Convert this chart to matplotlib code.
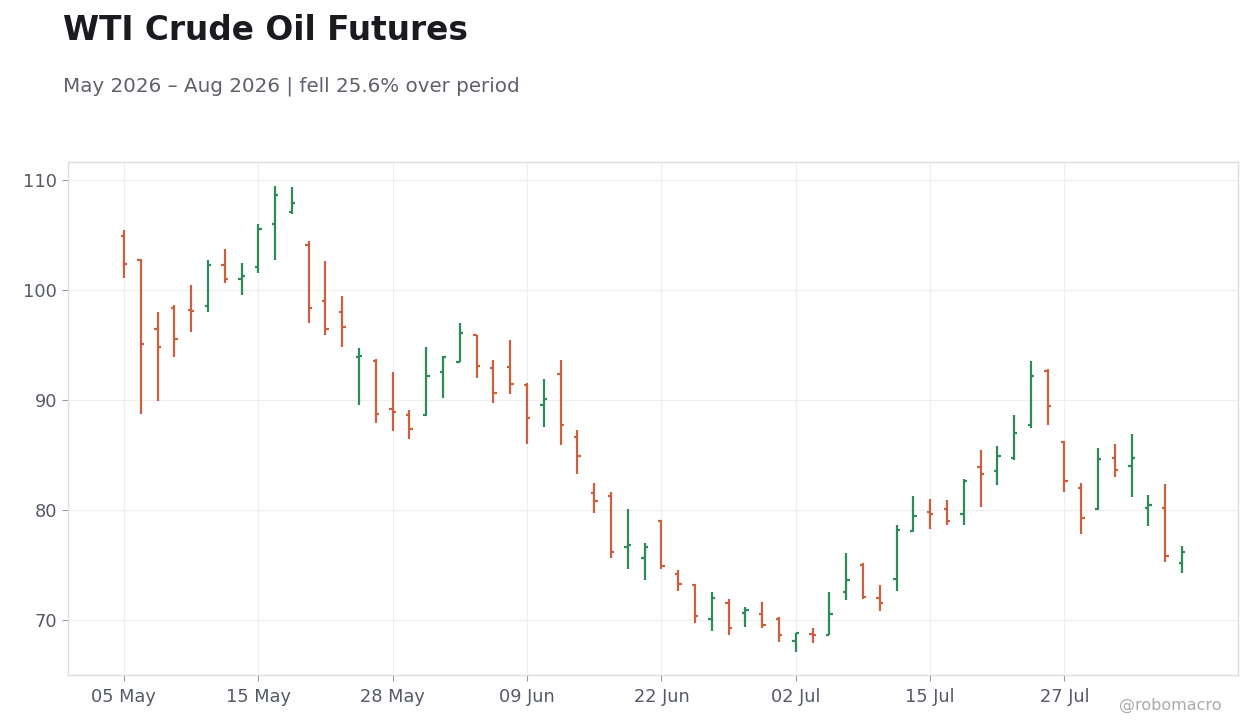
import matplotlib
matplotlib.use("Agg")
import matplotlib.pyplot as plt
import numpy as np

# OHLC data (trading-day index)
opens = [104.9, 102.7, 96.4, 98.3, 98.2, 98.5, 102.2, 101.0, 102.1, 106.0,
         107.1, 104.1, 99.0, 98.0, 93.9, 93.5, 89.2, 88.6, 88.6, 92.5,
         93.45, 95.85, 92.85, 93.0, 91.3, 89.5, 92.3, 86.65, 81.5, 81.25,
         76.65, 75.6, 79.0, 74.2, 73.2, 70.05, 71.5, 70.6, 70.5, 70.05,
         68.1, 68.75, 68.65, 72.5, 75.0, 71.95, 73.75, 78.1, 79.85, 80.1,
         79.65, 83.85, 83.55, 84.75, 87.75, 92.6, 86.2, 82.0, 80.1, 84.75,
         84.0, 80.2, 80.2, 75.2]
highs = [105.45, 102.8, 98.0, 98.6, 100.4, 102.7, 103.7, 102.4, 106.0, 109.45,
         109.3, 104.45, 102.6, 99.45, 94.7, 93.7, 92.55, 89.1, 94.8, 94.0,
         97.0, 95.9, 93.6, 95.45, 91.55, 91.9, 93.6, 87.3, 82.45, 81.65,
         80.1, 77.0, 79.1, 74.55, 73.25, 72.55, 71.9, 71.2, 71.65, 70.25,
         68.8, 69.25, 72.55, 76.1, 75.2, 73.2, 78.6, 81.3, 81.0, 80.9,
         82.8, 85.45, 85.8, 88.65, 93.55, 92.8, 86.25, 82.45, 85.65, 86.0,
         86.9, 81.35, 82.35, 76.7]
lows = [101.1, 88.75, 89.9, 93.85, 96.2, 98.0, 100.6, 99.5, 101.5, 102.7,
        106.85, 97.0, 95.85, 94.75, 89.5, 87.85, 87.2, 86.4, 88.55, 90.2,
        93.45, 91.95, 89.75, 90.5, 86.0, 87.5, 85.85, 83.3, 79.75, 75.6,
        74.65, 73.65, 74.6, 72.6, 69.75, 69.0, 68.65, 69.4, 69.3, 68.0,
        67.1, 67.95, 68.6, 71.85, 71.9, 70.85, 72.65, 77.95, 78.3, 78.65,
        78.65, 80.3, 82.3, 84.5, 87.4, 87.75, 81.65, 77.85, 80.0, 83.0,
        81.15, 78.5, 75.25, 74.3]
closes = [102.3, 95.1, 94.8, 95.5, 98.1, 102.2, 101.0, 101.2, 105.5, 108.6,
          107.85, 98.3, 96.4, 96.6, 94.0, 88.75, 88.9, 87.35, 92.2, 93.85,
          96.1, 93.1, 90.6, 91.4, 88.3, 90.1, 87.75, 84.9, 80.85, 76.15,
          76.85, 76.65, 74.9, 73.3, 70.4, 72.0, 69.3, 70.9, 69.55, 68.65,
          68.8, 68.65, 70.5, 73.6, 72.1, 71.5, 78.2, 79.4, 79.65, 79.0,
          82.6, 83.3, 84.9, 86.95, 92.2, 89.4, 82.65, 79.3, 84.6, 83.65,
          84.75, 80.4, 75.85, 76.2]

tick_labels = ["05 May", "15 May", "28 May", "09 Jun", "22 Jun", "02 Jul", "15 Jul", "27 Jul"]
tick_step = 8
y_ticks = [70, 80, 90, 100, 110]

UP = "#2e8b57"
DOWN = "#c9603e"

fig = plt.figure(figsize=(12.6, 7.28), dpi=100)
fig.patch.set_facecolor("white")
ax = fig.add_axes([68/1260, 1-675/728, (1238-68)/1260, (675-162)/728])

n = len(opens)
x = np.arange(n)
o = np.array(opens); h = np.array(highs); l = np.array(lows); c = np.array(closes)
cols = [UP if cc >= oo else DOWN for oo, cc in zip(o, c)]
tw = 0.2
ax.vlines(x, l, h, colors=cols, linewidth=1.6, zorder=3)
ax.hlines(o, x - tw, x, colors=cols, linewidth=1.6, zorder=3)
ax.hlines(c, x, x + tw, colors=cols, linewidth=1.6, zorder=3)

ax.set_xlim(-3.33, n - 1 + 3.33)
ax.set_ylim(65.0, 111.6)
ax.set_xticks(np.arange(0, n, tick_step)[:len(tick_labels)])
ax.set_xticklabels(tick_labels)
ax.set_yticks(y_ticks)
ax.grid(True, color="#eeeeee", linewidth=0.8, zorder=0)
ax.set_axisbelow(True)
for s in ax.spines.values():
    s.set_color("#dddddd")
    s.set_linewidth(1.0)
ax.tick_params(axis="both", colors="#999999", labelcolor="#555a66", labelsize=12.8,
               length=4, width=0.8)
ax.tick_params(axis="x", pad=5)
ax.tick_params(axis="y", pad=4)

fig.text(63/1260, 1-30/728, "WTI Crude Oil Futures", fontsize=23.6, fontweight="bold",
         color="#1a1a1f", va="center", ha="left")
fig.text(63/1260, 1-86/728, "May 2026 \u2013 Aug 2026 | fell 25.6% over period", fontsize=14.35,
         color="#5f606a", va="center", ha="left")
fig.text(1222/1260, 1-705/728, "@robomacro", fontsize=11.5, color="#aaaaaa",
         va="center", ha="right")

fig.savefig("out.png", dpi=100, facecolor="white")
